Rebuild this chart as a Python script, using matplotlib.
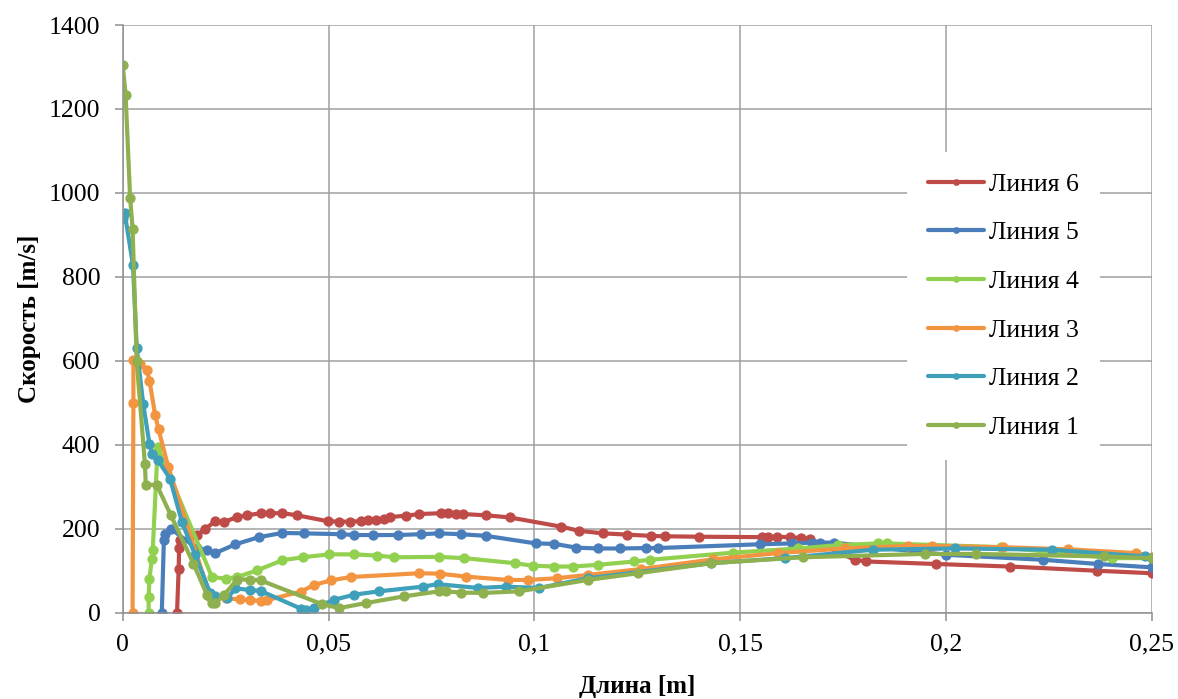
import matplotlib
matplotlib.use("Agg")
import matplotlib.pyplot as plt

# ---- data ----
x6 = [0.0132, 0.0136, 0.0137, 0.0139, 0.018, 0.0201, 0.0225, 0.0246, 0.0278, 0.0302, 0.0335, 0.0359,
      0.0388, 0.0424, 0.0498, 0.0526, 0.0553, 0.0579, 0.0595, 0.0615, 0.0636, 0.065, 0.0688, 0.0721,
      0.0773, 0.079, 0.081, 0.0826, 0.0883, 0.094, 0.1065, 0.1109, 0.1167, 0.1226, 0.1283, 0.1317,
      0.1401, 0.1552, 0.1568, 0.1589, 0.1621, 0.1649, 0.167, 0.1778, 0.1807, 0.1977, 0.2155, 0.2366, 0.25]
y6 = [0, 105, 153, 172, 184, 200, 218, 216, 228, 232, 237, 237,
      237, 232, 218, 217, 217, 218, 220, 220, 224, 228, 231, 235,
      237, 237, 235, 235, 232, 227, 205, 195, 189, 186, 183, 182,
      181, 180, 180, 181, 180, 178, 176, 126, 122, 116, 110, 100, 94]

x5 = [0.0095, 0.01, 0.0103, 0.0117, 0.018, 0.0205, 0.0225, 0.0274, 0.0331, 0.0388, 0.0441, 0.053,
      0.0563, 0.0608, 0.0668, 0.0725, 0.0769, 0.0821, 0.0883, 0.1004, 0.1049, 0.1102, 0.1154, 0.1207,
      0.1272, 0.13, 0.1548, 0.1625, 0.1674, 0.1694, 0.1727, 0.2001, 0.2237, 0.237, 0.25]
y5 = [0, 172, 188, 200, 153, 149, 142, 163, 180, 190, 189, 187,
      185, 185, 185, 187, 189, 187, 183, 165, 164, 155, 153, 153,
      154, 154, 163, 165, 167, 167, 167, 138, 126, 116, 108]

x4 = [0.0063, 0.0063, 0.0065, 0.0071, 0.0073, 0.0085, 0.0217, 0.025, 0.0278, 0.0327, 0.0388, 0.0437,
      0.0502, 0.0563, 0.0619, 0.066, 0.0769, 0.083, 0.0952, 0.0996, 0.1049, 0.1094, 0.1154, 0.1243,
      0.128, 0.1483, 0.1641, 0.1739, 0.1835, 0.1856, 0.2135, 0.2403, 0.25]
y4 = [0, 38, 81, 129, 149, 394, 85, 81, 85, 101, 125, 132,
      139, 139, 136, 132, 133, 130, 118, 112, 110, 110, 114, 122,
      126, 143, 153, 161, 165, 165, 156, 130, 130]

x3 = [0.0024, 0.0026, 0.0026, 0.0041, 0.0059, 0.0065, 0.0079, 0.0087, 0.0111, 0.0213, 0.025, 0.0286,
      0.031, 0.0335, 0.0351, 0.0432, 0.0465, 0.0506, 0.0554, 0.0721, 0.077, 0.0834, 0.0936, 0.0985,
      0.1054, 0.113, 0.1259, 0.1434, 0.1592, 0.1754, 0.1908, 0.1967, 0.2139, 0.2297, 0.2463, 0.25]
y3 = [0, 500, 603, 593, 579, 553, 470, 437, 346, 38, 34, 32,
      30, 28, 30, 50, 66, 77, 85, 94, 93, 86, 78, 78,
      82, 90, 104, 127, 142, 153, 159, 159, 156, 151, 142, 133]

x2 = [0.0, 0.0005, 0.0025, 0.0034, 0.005, 0.0065, 0.0072, 0.0085, 0.0115, 0.0144, 0.0176, 0.0213,
      0.0225, 0.0254, 0.0274, 0.031, 0.0335, 0.0432, 0.0445, 0.0465, 0.0514, 0.0563, 0.0623, 0.0729,
      0.0765, 0.0863, 0.0931, 0.1012, 0.113, 0.143, 0.1608, 0.1823, 0.2022, 0.2257, 0.2484, 0.25]
y2 = [940, 951, 828, 631, 496, 402, 379, 364, 319, 216, 137, 46,
      40, 34, 58, 54, 52, 10, 7, 11, 31, 43, 51, 62,
      68, 59, 62, 59, 82, 118, 130, 150, 153, 150, 134, 130]

x1 = [0.0, 0.0007, 0.0018, 0.0024, 0.0034, 0.0054, 0.0056, 0.0083, 0.0117, 0.0172, 0.0205, 0.0217,
      0.0225, 0.0246, 0.0278, 0.031, 0.0335, 0.0485, 0.0526, 0.0591, 0.0684, 0.0769, 0.0785, 0.0821,
      0.0875, 0.0964, 0.113, 0.1252, 0.143, 0.1653, 0.1949, 0.2074, 0.2383, 0.25]
y1 = [1305, 1234, 989, 915, 600, 354, 305, 304, 232, 117, 42, 24,
      22, 42, 79, 79, 77, 20, 11, 23, 39, 51, 51, 48,
      47, 51, 78, 94, 118, 132, 140, 140, 134, 130]

labels = ["Линия 6", "Линия 5", "Линия 4", "Линия 3", "Линия 2", "Линия 1"]
xticks = [0, 0.05, 0.1, 0.15, 0.2, 0.25]
xticklabels = ["0", "0,05", "0,1", "0,15", "0,2", "0,25"]
yticks = [0, 200, 400, 600, 800, 1000, 1200, 1400]

series = [(x6, y6), (x5, y5), (x4, y4), (x3, y3), (x2, y2), (x1, y1)]
colors = ["#BE4B48", "#4A7EBB", "#92D050", "#F39441", "#3FA0BA", "#8FB04E"]

plt.rcParams['font.family'] = ['Liberation Serif', 'DejaVu Serif']

fig = plt.figure(figsize=(11.78, 6.99), dpi=100)
ax = fig.add_axes([122.7 / 1178, 1 - 612.7 / 699, (1151.7 - 122.7) / 1178, (612.7 - 25) / 699])

for (xs, ys), c, lab in zip(series, colors, labels):
    ax.plot(xs, ys, color=c, lw=3.0, marker='o', ms=6.4, label=lab,
            solid_joinstyle='round', solid_capstyle='round')

ax.set_xlim(0, 0.25)
ax.set_ylim(0, 1400)
ax.set_xticks(xticks)
ax.set_xticklabels(xticklabels)
ax.set_yticks(yticks)
ax.grid(True, color='#A0A0A0', lw=1.1)
ax.set_axisbelow(True)
for s in ['top', 'right']:
    ax.spines[s].set_visible(False)
for s in ['left', 'bottom']:
    ax.spines[s].set_color('#909090')
    ax.spines[s].set_linewidth(1.1)
ax.tick_params(axis='both', colors='#909090', labelcolor='black', labelsize=18.5,
               length=6, width=1.1, direction='out')
ax.tick_params(axis='y', pad=10)
ax.tick_params(axis='x', pad=9)

ax.set_xlabel("Длина [m]", fontsize=18, fontweight='bold', labelpad=14)
ax.set_ylabel("Скорость [m/s]", fontsize=18, fontweight='bold', labelpad=6)

leg = ax.legend(loc='upper left', bbox_to_anchor=(907 / 1178, 1 - 152 / 699),
                bbox_transform=fig.transFigure, fontsize=18.5, frameon=True,
                facecolor='white', edgecolor='none', framealpha=1, fancybox=False,
                numpoints=1, markerscale=0.6, handlelength=2.2, handletextpad=0.2,
                labelspacing=1.0, borderpad=0.8, borderaxespad=0)

fig.savefig("out.png", dpi=100)
